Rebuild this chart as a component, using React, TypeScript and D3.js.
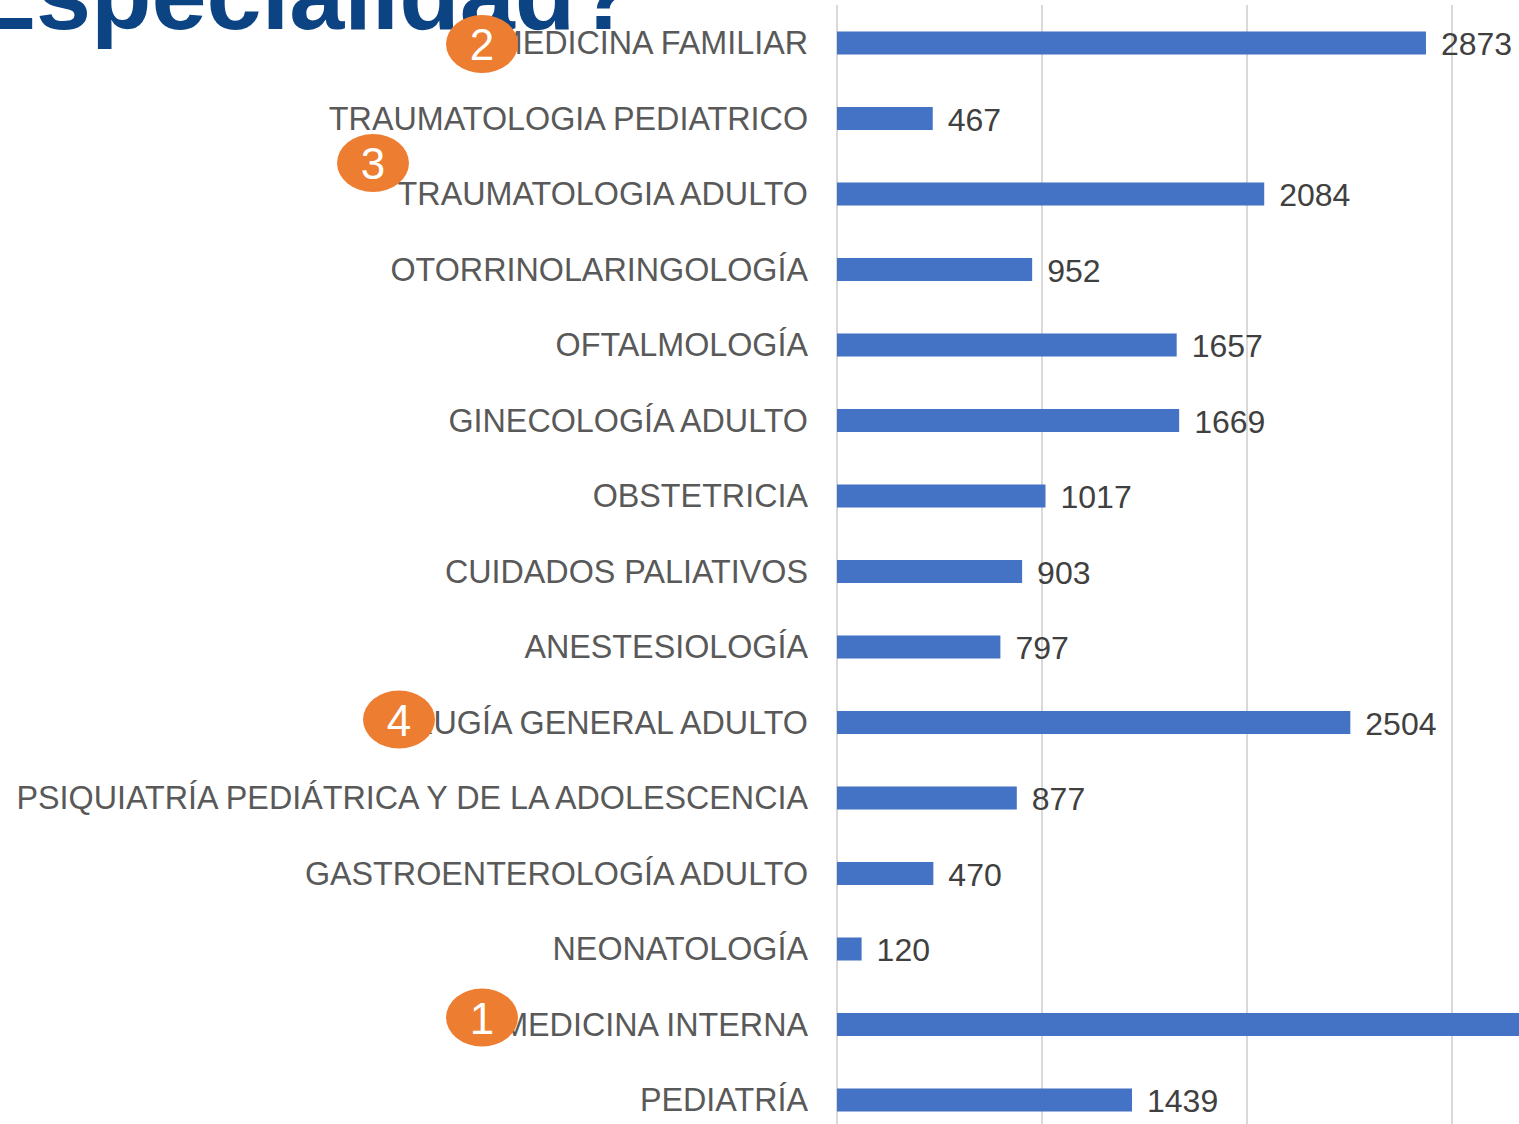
import React from "react";
import * as d3 from "d3";

const categories = [
  "MEDICINA FAMILIAR",
  "TRAUMATOLOGIA PEDIATRICO",
  "TRAUMATOLOGIA ADULTO",
  "OTORRINOLARINGOLOGÍA",
  "OFTALMOLOGÍA",
  "GINECOLOGÍA ADULTO",
  "OBSTETRICIA",
  "CUIDADOS PALIATIVOS",
  "ANESTESIOLOGÍA",
  "CIRUGÍA GENERAL ADULTO",
  "PSIQUIATRÍA PEDIÁTRICA Y DE LA ADOLESCENCIA",
  "GASTROENTEROLOGÍA ADULTO",
  "NEONATOLOGÍA",
  "MEDICINA INTERNA",
  "PEDIATRÍA",
];
const values = [2873, 467, 2084, 952, 1657, 1669, 1017, 903, 797, 2504, 877, 470, 120, 3600, 1439];
const gridTicks = [0, 1000, 2000, 3000];
const rankBadges = [
  { category: "MEDICINA INTERNA", rank: "1", dx: -326, dy: -7 },
  { category: "MEDICINA FAMILIAR", rank: "2", dx: -326, dy: 1 },
  { category: "TRAUMATOLOGIA ADULTO", rank: "3", dx: -435, dy: -31 },
  { category: "CIRUGÍA GENERAL ADULTO", rank: "4", dx: -409, dy: -3 },
];
const title = "Especialidad?";

const W = 1519;
const H = 1124;
const FONT = "'Liberation Sans', Arial, sans-serif";

export default function App() {
  const x = d3.scaleLinear().domain([0, 3000]).range([837, 1452]);
  const y = d3.scalePoint<string>().domain(categories).range([43, 1100]);
  const step = y.step();
  const barH = step * 0.305;

  return (
    <svg
      width={W}
      height={H}
      style={{ position: "absolute", left: 0, top: 0, background: "#fff", overflow: "hidden" }}
      fontFamily={FONT}
    >
      <rect x={0} y={0} width={W} height={H} fill="#fff" />
      {gridTicks.map((t) => (
        <line key={t} x1={x(t)} x2={x(t)} y1={5} y2={H} stroke="#D9D9D9" strokeWidth={2} />
      ))}
      <text x={-30} y={29} fontSize={99} fontWeight="bold" fill="#0C4383">
        {title}
      </text>
      {categories.map((c, i) => {
        const cy = y(c)!;
        return (
          <g key={c}>
            <rect x={x(0)} y={cy - barH / 2} width={x(values[i]) - x(0)} height={barH} fill="#4472C4" />
            <text x={808} y={cy + 11} textAnchor="end" fontSize={32.3} fill="#595959">
              {c}
            </text>
            <text x={x(values[i]) + 15} y={cy + 12} fontSize={32} fill="#404040">
              {values[i]}
            </text>
          </g>
        );
      })}
      {rankBadges.map((b) => {
        const cy = y(b.category)!;
        const cx = 808 + b.dx;
        return (
          <g key={b.rank}>
            <ellipse cx={cx} cy={cy + b.dy} rx={36} ry={29} fill="#ED7D31" />
            <text x={cx} y={cy + b.dy + 16} textAnchor="middle" fontSize={44} fill="#fff">
              {b.rank}
            </text>
          </g>
        );
      })}
    </svg>
  );
}
